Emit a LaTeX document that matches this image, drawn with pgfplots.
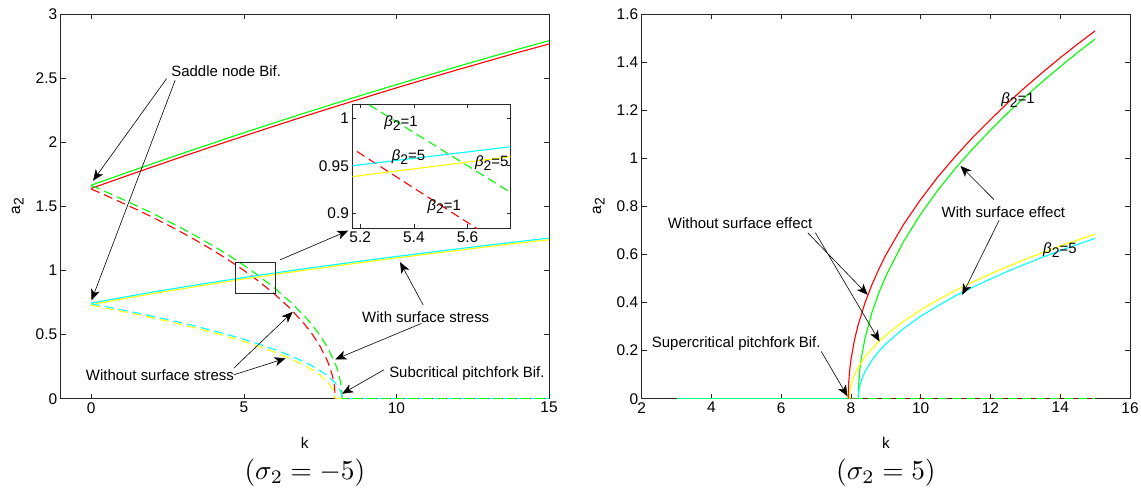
\documentclass[border=0pt]{standalone}
\usepackage{fontspec}
\setmainfont{Liberation Sans}
\usepackage{pgfplots}
\pgfplotsset{compat=1.18}
\usetikzlibrary{arrows.meta}
\definecolor{axgray}{RGB}{38,38,38}
\definecolor{mred}{RGB}{255,0,0}
\definecolor{mgreen}{RGB}{0,255,0}
\definecolor{mcyan}{RGB}{0,255,255}
\definecolor{myellow}{RGB}{255,255,0}
\newcommand{\tfont}{\fontsize{15.5}{17}\selectfont}
\newcommand{\afont}{\fontsize{15}{17}\selectfont}
\newcommand{\bet}[1]{\textit{β}\raisebox{-0.45ex}{\fontsize{14}{14}\selectfont 2}=#1}
\tikzset{arr/.style={-{Stealth[length=11bp,width=9bp,inset=3bp]}, line width=0.6bp, black}}
\pgfplotsset{
 mainax/.style={scale only axis, width=488.3bp, height=384.7bp, anchor=south west,
  clip=false, tick align=inside, major tick length=5bp,
  axis line style={axgray, line width=0.6bp}, tick style={axgray, line width=0.6bp},
  ticklabel style={font=\tfont, text=black},
  /pgf/number format/assume math mode=true,
  label style={font=\tfont},
  xlabel style={at={(axis description cs:0.5,-0.115)}, anchor=center},
  ylabel style={at={(axis description cs:-0.088,0.5)}, anchor=center},
  every axis plot/.append style={line width=1.1bp, no markers},
 },
 dsh/.style={dash pattern=on 9bp off 5bp},
}
\begin{document}
\begin{tikzpicture}
\path[use as bounding box] (0,0) rectangle (1141bp,492bp);
% ---------------- left panel ----------------
\begin{axis}[mainax, at={(60.7bp,93.3bp)},
  xmin=-1, xmax=15, ymin=0, ymax=3,
  xtick={0,5,10,15}, ytick={0,0.5,1,1.5,2,2.5,3},
  xlabel={k}, ylabel={a\raisebox{-0.45ex}{\fontsize{14}{14}\selectfont 2}}]
% zero branch
\addplot[mred, dsh] coordinates {(8,0) (15,0)};
\addplot[myellow, dsh] coordinates {(8,0) (15,0)};
\addplot[mcyan, dsh, dash phase=7bp] coordinates {(8.22,0) (15,0)};
\addplot[mgreen, dsh, dash phase=3bp] coordinates {(8.22,0) (15,0)};
% upper stable branch
\addplot[mred] coordinates {(0,1.640) (1,1.724) (2,1.807) (3,1.889) (4,1.969) (5,2.048) (6,2.126) (7,2.203) (8,2.278) (9,2.351) (10,2.424) (11,2.495) (12,2.565) (13,2.633) (14,2.701) (15,2.766)};
\addplot[mgreen] coordinates {(0,1.665) (1,1.749) (2,1.832) (3,1.914) (4,1.994) (5,2.074) (6,2.151) (7,2.228) (8,2.303) (9,2.377) (10,2.449) (11,2.520) (12,2.590) (13,2.659) (14,2.726) (15,2.792)};
% upper unstable branch
\addplot[mred, dsh] coordinates {(0,1.635) (0.5,1.583) (1,1.529) (1.5,1.474) (2,1.416) (2.5,1.356) (3,1.292) (3.5,1.226) (4,1.156) (4.5,1.081) (5,1.001) (5.5,0.914) (6,0.817) (6.5,0.708) (7,0.578) (7.25,0.501) (7.5,0.409) (7.75,0.289) (7.9,0.183) (7.97,0.100) (8,0)};
\addplot[mgreen, dsh] coordinates {(0,1.663) (0.5,1.611) (1,1.558) (1.5,1.503) (2,1.447) (2.5,1.387) (3,1.325) (3.5,1.260) (4,1.191) (4.5,1.119) (5,1.041) (5.5,0.956) (6,0.864) (6.5,0.760) (7,0.641) (7.25,0.571) (7.5,0.492) (7.75,0.398) (8,0.272) (8.1,0.201) (8.17,0.130) (8.2,0.082) (8.22,0)};
% lower stable branch
\addplot[myellow] coordinates {(0,0.733) (1,0.777) (2,0.819) (3,0.858) (4,0.896) (5,0.933) (6,0.968) (7,1.002) (8,1.034) (9,1.066) (10,1.097) (11,1.127) (12,1.156) (13,1.185) (14,1.213) (15,1.240)};
\addplot[mcyan] coordinates {(0,0.745) (1,0.789) (2,0.831) (3,0.870) (4,0.908) (5,0.945) (6,0.980) (7,1.014) (8,1.046) (9,1.078) (10,1.109) (11,1.139) (12,1.168) (13,1.197) (14,1.225) (15,1.252)};
% lower unstable branch
\addplot[myellow, dsh] coordinates {(0,0.728) (0.5,0.705) (1,0.681) (1.5,0.657) (2,0.631) (2.5,0.604) (3,0.576) (3.5,0.546) (4,0.515) (4.5,0.482) (5,0.446) (5.5,0.407) (6,0.364) (6.5,0.315) (7,0.258) (7.25,0.223) (7.5,0.182) (7.75,0.129) (7.9,0.081) (7.97,0.045) (8,0)};
\addplot[mcyan, dsh] coordinates {(0,0.740) (0.5,0.717) (1,0.693) (1.5,0.669) (2,0.643) (2.5,0.617) (3,0.590) (3.5,0.561) (4,0.530) (4.5,0.498) (5,0.463) (5.5,0.425) (6,0.384) (6.5,0.338) (7,0.285) (7.25,0.254) (7.5,0.219) (7.75,0.177) (8,0.121) (8.1,0.089) (8.17,0.058) (8.2,0.036) (8.22,0)};
% annotations
\draw[axgray, line width=0.6bp] (4.72,0.824) rectangle (6.04,1.065);
\draw[arr] (6.19,1.083) -- (8.42,1.31);
\node[anchor=west, font=\afont, inner sep=0pt] at (2.62,2.554) {Saddle node Bif.};
\draw[arr] (2.47,2.496) -- (0.06,1.70);
\draw[arr] (2.75,2.483) -- (0.01,0.767);
\node[font=\afont, inner sep=0pt] at (10.96,0.638) {With surface stress};
\draw[arr] (10.88,0.729) -- (10.12,1.065);
\draw[arr] (10.82,0.587) -- (8.0,0.307);
\node[font=\afont, inner sep=0pt] at (2.25,0.186) {Without surface stress};
\draw[arr] (4.67,0.238) -- (6.6,0.677);
\draw[arr] (4.67,0.186) -- (6.37,0.315);
\node[font=\afont, inner sep=0pt] at (12.31,0.199) {Subcritical pitchfork Bif.};
\draw[arr] (9.59,0.225) -- (8.22,0.039);
\end{axis}
% ---------------- inset ----------------
\begin{axis}[at={(352.4bp,263.7bp)}, anchor=south west, scale only axis,
  width=158.1bp, height=124bp,
  xmin=5.171, xmax=5.76, ymin=0.8842, ymax=1.0147,
  xtick={5.2,5.4,5.6}, ytick={0.9,0.95,1},
  clip mode=individual, tick align=inside, major tick length=4bp,
  axis background/.style={fill=white},
  axis line style={axgray, line width=0.6bp}, tick style={axgray, line width=0.6bp},
  ticklabel style={font=\tfont, text=black},
  /pgf/number format/assume math mode=true,
  every axis plot/.append style={line width=1.1bp, no markers}]
\addplot[mred, dsh] coordinates {(5.1,0.981) (5.8,0.854)};
\addplot[mgreen, dsh] coordinates {(5.1,1.0375) (5.8,0.915)};
\addplot[myellow] coordinates {(5.1,0.936) (5.8,0.961)};
\addplot[mcyan] coordinates {(5.1,0.9476) (5.8,0.9714)};
\node[font=\afont, inner sep=0pt] at (5.352,0.995) {\bet{1}};
\node[font=\afont, inner sep=0pt] at (5.38,0.959) {\bet{5}};
\node[font=\afont, inner sep=0pt] at (5.69,0.953) {\bet{5}};
\node[font=\afont, inner sep=0pt] at (5.513,0.907) {\bet{1}};
\end{axis}
% ---------------- right panel ----------------
\begin{axis}[mainax, at={(641.7bp,93.3bp)},
  xmin=2, xmax=16, ymin=0, ymax=1.6,
  xtick={2,4,6,8,10,12,14,16}, ytick={0,0.2,0.4,0.6,0.8,1,1.2,1.4,1.6},
  xlabel={k}, ylabel={a\raisebox{-0.45ex}{\fontsize{14}{14}\selectfont 2}}]
\addplot[mred] coordinates {(3,0) (7.92,0)};
\addplot[myellow] coordinates {(3,0) (7.95,0)};
\addplot[mcyan] coordinates {(3,0) (8.21,0)};
\addplot[mgreen, opacity=0.5] coordinates {(3,0) (8.21,0)};
\addplot[mred, dsh, opacity=0.4] coordinates {(7.92,0) (15,0)};
\addplot[mgreen, dsh, dash phase=4bp] coordinates {(8.21,0) (15,0)};
\addplot[mred] coordinates {(7.92,0) (7.93,0.058) (7.96,0.115) (8.0,0.163) (8.1,0.244) (8.2,0.304) (8.4,0.398) (8.6,0.474) (8.8,0.539) (9.0,0.598) (9.5,0.723) (10,0.829) (10.5,0.924) (11,1.009) (11.5,1.088) (12,1.161) (12.5,1.231) (13,1.296) (13.5,1.358) (14,1.418) (14.5,1.475) (15,1.530)};
\addplot[mgreen] coordinates {(8.21,0) (8.22,0.057) (8.25,0.115) (8.3,0.172) (8.4,0.250) (8.6,0.358) (8.8,0.441) (9.0,0.510) (9.5,0.652) (10,0.768) (10.5,0.869) (11,0.959) (11.5,1.041) (12,1.117) (12.5,1.189) (13,1.256) (13.5,1.320) (14,1.381) (14.5,1.440) (15,1.496)};
\addplot[myellow] coordinates {(7.95,0) (7.96,0.026) (8.0,0.058) (8.1,0.100) (8.2,0.129) (8.4,0.173) (8.6,0.208) (8.8,0.238) (9.0,0.264) (9.5,0.321) (10,0.369) (10.5,0.412) (11,0.451) (11.5,0.486) (12,0.519) (12.5,0.550) (13,0.580) (13.5,0.608) (14,0.635) (14.5,0.660) (15,0.685)};
\addplot[mcyan] coordinates {(8.21,0) (8.22,0.026) (8.25,0.051) (8.3,0.077) (8.4,0.112) (8.6,0.160) (8.8,0.197) (9.0,0.228) (9.5,0.291) (10,0.343) (10.5,0.387) (11,0.428) (11.5,0.464) (12,0.498) (12.5,0.530) (13,0.560) (13.5,0.589) (14,0.616) (14.5,0.642) (15,0.667)};
\node[font=\afont, inner sep=0pt] at (12.79,1.242) {\bet{1}};
\node[font=\afont, inner sep=0pt] at (13.99,0.618) {\bet{5}};
\node[font=\afont, inner sep=0pt] at (12.37,0.776) {With surface effect};
\draw[arr] (12.1,0.828) -- (11.14,0.968);
\draw[arr] (12.25,0.742) -- (11.19,0.432);
\node[font=\afont, inner sep=0pt] at (4.82,0.73) {Without surface effect};
\draw[arr] (6.76,0.69) -- (8.48,0.432);
\draw[arr] (6.98,0.69) -- (8.82,0.238);
\node[font=\afont, inner sep=0pt] at (4.71,0.231) {Supercritical pitchfork Bif.};
\draw[arr] (7.15,0.196) -- (7.9,0.01);
\end{axis}
\node[scale=2.75] at (304.9bp,19bp) {$(\sigma_2=-5)$};
\node[scale=2.75] at (885.9bp,19bp) {$(\sigma_2=5)$};
\end{tikzpicture}
\end{document}
